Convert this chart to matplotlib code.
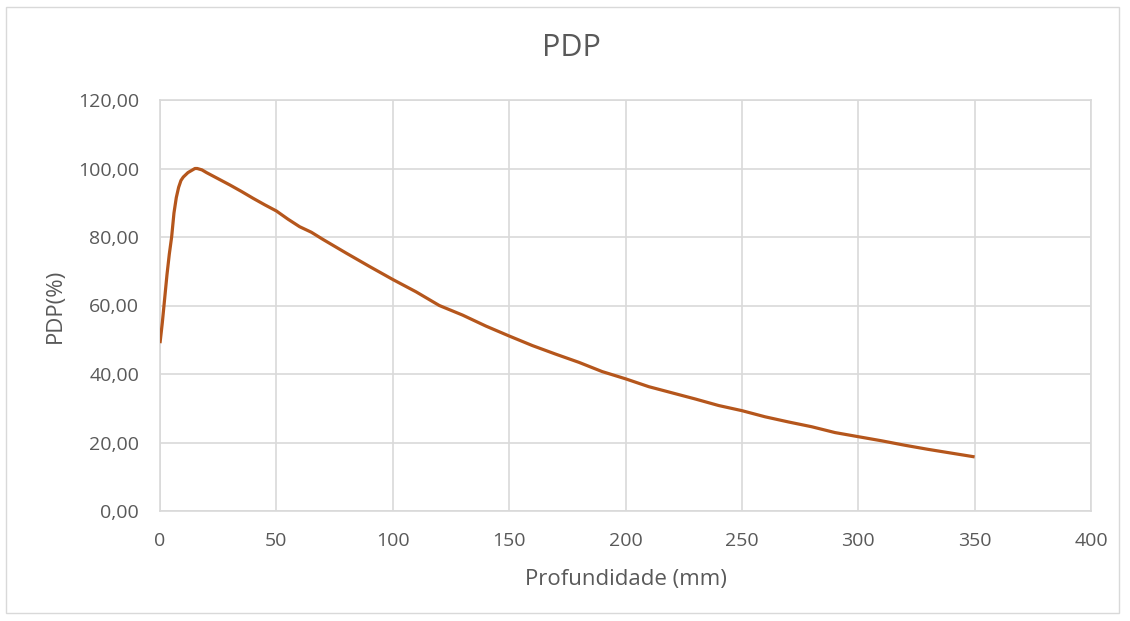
import matplotlib
matplotlib.use("Agg")
import matplotlib.pyplot as plt
from matplotlib.ticker import FuncFormatter
from matplotlib.patches import Rectangle

depth_mm = [0, 1, 2, 3, 4, 5, 6, 7, 8, 9, 10, 12, 14, 15, 16, 18, 20, 25, 30, 35, 40,
            45, 50, 55, 60, 65, 70, 80, 90, 100, 110, 120, 130, 140, 150, 160,
            170, 180, 190, 200, 210, 220, 230, 240, 250, 260, 270, 280, 290,
            300, 310, 320, 330, 340, 350]
pdp_pct = [49, 55, 62, 69, 75, 80, 87, 91.5, 94.5, 96.5, 97.5, 98.8, 99.6, 100, 100, 99.6, 98.8, 97, 95.2, 93.3, 91.3,
           89.4, 87.6, 85.2, 83, 81.4, 79.3, 75.3, 71.4, 67.6, 64, 60, 57.2, 54, 51.1, 48.3,
           45.8, 43.4, 40.7, 38.6, 36.3, 34.5, 32.7, 30.8, 29.3, 27.5, 26, 24.6, 22.9,
           21.7, 20.5, 19.2, 18, 16.9, 15.8]

x_ticks = [0, 50, 100, 150, 200, 250, 300, 350, 400]
y_ticks = [0, 20, 40, 60, 80, 100, 120]

plt.rcParams['font.family'] = ['Open Sans', 'DejaVu Sans']
text_color = '#595959'
grid_color = '#D9D9D9'
W, H = 1130, 621

fig = plt.figure(figsize=(11.3, 6.21), dpi=100)
fig.patches.append(Rectangle((6/W, 8/H), 1113/W, 606/H, transform=fig.transFigure,
                             fill=False, edgecolor='#D9D9D9', linewidth=1))
ax = fig.add_axes([160/W, 1 - 511/H, (1091 - 160)/W, (511 - 100)/H])

ax.plot(depth_mm, pdp_pct, color='#B5561C', linewidth=2.3, solid_capstyle='butt', zorder=3)

ax.set_xlim(0, 400)
ax.set_ylim(0, 120)
ax.set_xticks(x_ticks)
ax.set_yticks(y_ticks)
ax.yaxis.set_major_formatter(FuncFormatter(lambda v, p: f"{v:.2f}".replace('.', ',')))
ax.grid(True, color=grid_color, linewidth=1.2)
ax.set_axisbelow(True)
for s in ax.spines.values():
    s.set_color(grid_color)
    s.set_linewidth(1.2)
ax.tick_params(length=0, labelsize=14, labelcolor=text_color)
ax.tick_params(axis='y', pad=15)
ax.tick_params(axis='x', pad=15)

fig.text(626/W, 1 - 580/H, 'Profundidade (mm)', ha='center', va='center', fontsize=16, color=text_color)
fig.text(55/W, 1 - 306/H, 'PDP(%)', ha='center', va='center', rotation=90, fontsize=16, color=text_color)
fig.text(571/W, 1 - 48/H, 'PDP', ha='center', va='center', fontsize=22, color=text_color)

fig.savefig('out.png', dpi=100)
